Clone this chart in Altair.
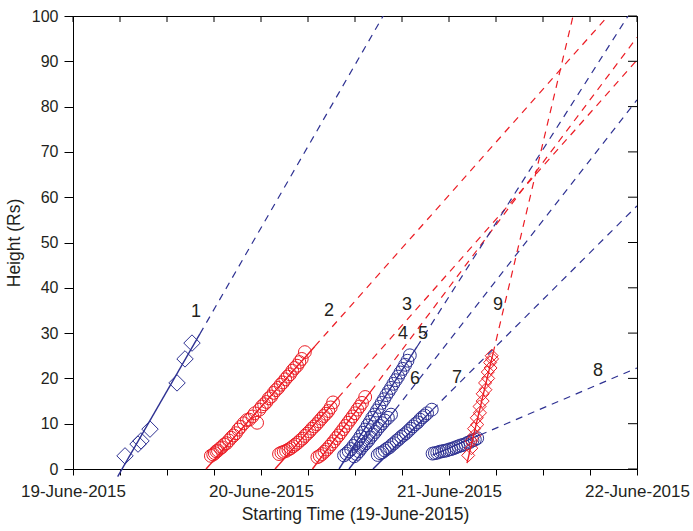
import altair as alt
import pandas as pd

BLUE = "#2e3192"
RED = "#ec1c24"
INK = "#231f20"
FONT = "Liberation Sans"

# x runs in hours after 19-June-2015 00:00
day_labels = ["19-June-2015", "20-June-2015", "21-June-2015", "22-June-2015"]
x_ticks = list(range(0, 73, 6))
y_ticks = list(range(0, 101, 10))
X_MAX = 72

track_ids = [1, 2, 3, 4, 5, 6, 7, 8, 9]
track_colors = ["blue", "red", "red", "red", "blue", "blue", "blue", "blue", "red"]
track_markers = ["diamond", "circle", "circle", "circle", "circle", "circle", "circle", "circle", "diamond"]

# linear height-time fits: time of zero height (h) and speed (Rs/h)
fit_t0 = [6.26, 16.98, 25.79, 30.57, 33.96, 35.23, 38.30, 41.77, 50.12]
fit_speed = [3.00, 1.949, 1.954, 2.30, 2.71, 2.216, 1.724, 0.738, 7.29]
# solid part of each fit (h); dashed extrapolation continues beyond fit_end
fit_start = [5.7, 16.98, 25.79, 30.57, 33.96, 35.23, 38.30, 45.9, 50.3]
fit_end = [16.2, 30.89, 33.83, 38.04, 43.9, 41.1, 45.9, 51.96, 53.62]

# measured heights of each track
t1 = [6.64, 8.30, 8.68, 9.83, 13.28, 14.30, 15.19]
h1 = [2.9, 5.5, 6.2, 8.8, 19.0, 24.3, 27.8]

t2 = [17.6, 17.9, 18.1, 18.3, 18.5, 18.8, 19.0, 19.3, 19.6, 19.9, 20.2, 20.5, 20.8, 21.1,
      21.4, 21.8, 22.2, 22.5, 23.5, 22.9, 23.2, 23.8, 24.1, 24.4, 24.7, 25.0, 25.3, 25.6,
      25.9, 26.2, 26.5, 26.8, 27.1, 27.4, 27.7, 28.0, 28.3, 28.6, 28.9, 29.2, 29.6]
h2 = [2.9, 3.2, 3.5, 3.9, 4.1, 4.6, 4.8, 5.4, 5.7, 6.3, 6.9, 7.4, 7.9, 8.7,
      9.3, 10.1, 10.8, 10.9, 10.2, 11.6, 12.3, 13.1, 13.8, 14.3, 14.8, 15.6, 16.0, 16.8,
      17.4, 17.9, 18.6, 19.1, 19.8, 20.4, 20.9, 21.7, 22.3, 22.8, 23.6, 24.3, 25.8]

t3 = [26.3, 26.6, 26.9, 27.2, 27.5, 27.8, 28.1, 28.4, 28.7, 29.0, 29.3, 29.6,
      29.9, 30.2, 30.5, 30.8, 31.1, 31.4, 31.7, 32.0, 32.3, 32.6, 32.9, 33.2]
h3 = [3.3, 3.6, 3.8, 4.0, 4.3, 4.6, 5.0, 5.4, 5.8, 6.3, 6.7, 7.3,
      7.8, 8.3, 8.9, 9.4, 9.9, 10.5, 11.1, 11.7, 12.2, 12.8, 13.6, 14.7]

t4 = [31.2, 31.5, 31.8, 32.1, 32.4, 32.7, 33.0, 33.3, 33.6, 33.9, 34.2,
      34.5, 34.8, 35.1, 35.4, 35.7, 36.0, 36.3, 36.6, 36.9, 37.3]
h4 = [2.6, 2.9, 3.3, 3.8, 4.3, 4.9, 5.5, 6.1, 6.8, 7.4, 8.1,
      8.8, 9.5, 10.2, 10.9, 11.6, 12.3, 13.1, 13.8, 14.6, 15.9]

t5 = [34.6, 34.9, 35.2, 35.5, 35.8, 36.1, 36.4, 36.7, 37.0, 37.3, 37.6, 37.9, 38.2, 38.5,
      38.8, 39.1, 39.4, 39.7, 40.0, 40.3, 40.6, 40.9, 41.2, 41.5, 41.8, 42.1, 42.4, 42.7, 43.0]
h5 = [3.0, 3.4, 3.9, 4.4, 5.1, 5.7, 6.4, 7.2, 8.0, 8.7, 9.6, 10.4, 11.3, 12.0,
      12.9, 13.7, 14.6, 15.4, 16.3, 17.1, 17.9, 18.8, 19.6, 20.4, 21.3, 22.1, 23.0, 23.9, 25.1]

t6 = [35.9, 36.2, 36.5, 36.8, 37.1, 37.4, 37.7, 38.0, 38.3, 38.6, 38.9, 39.2, 39.5, 39.8, 40.2, 40.6]
h6 = [2.8, 3.3, 3.9, 4.6, 5.2, 5.7, 6.3, 7.0, 7.6, 8.2, 8.9, 9.5, 10.1, 10.7, 11.3, 12.0]

t7 = [38.9, 39.2, 39.5, 39.8, 40.1, 40.4, 40.7, 41.0, 41.3, 41.6, 41.9, 42.2,
      42.5, 42.8, 43.1, 43.4, 43.7, 44.0, 44.3, 44.6, 44.9, 45.2, 45.8]
h7 = [3.1, 3.5, 3.7, 4.1, 4.5, 4.8, 5.3, 5.7, 6.2, 6.6, 7.1, 7.5,
      7.9, 8.4, 8.9, 9.4, 9.9, 10.3, 10.9, 11.4, 11.8, 12.3, 13.1]

t8 = [45.9, 46.2, 46.5, 46.8, 47.1, 47.4, 47.7, 48.0, 48.3, 48.6,
      48.9, 49.2, 49.5, 49.8, 50.1, 50.4, 50.7, 51.0, 51.3, 51.6]
h8 = [3.4, 3.5, 3.6, 3.8, 3.9, 4.0, 4.1, 4.3, 4.4, 4.6,
      4.8, 5.0, 5.2, 5.3, 5.5, 5.8, 6.0, 6.3, 6.5, 6.8]

t9 = [50.45, 50.85, 50.85, 51.25, 51.2, 51.6, 51.55, 51.95, 51.9, 52.3,
      52.3, 52.65, 52.6, 53.0, 52.95, 53.3, 53.25, 53.5, 53.45]
h9 = [3.0, 4.6, 6.2, 7.4, 8.9, 9.8, 11.3, 12.4, 13.8, 15.0,
      16.6, 17.5, 19.0, 20.0, 21.4, 22.3, 23.5, 24.3, 25.0]

track_t = [t1, t2, t3, t4, t5, t6, t7, t8, t9]
track_h = [h1, h2, h3, h4, h5, h6, h7, h8, h9]

# track number annotations
label_text = ["1", "2", "3", "4", "5", "6", "7", "8", "9"]
label_t = [15.70, 32.68, 42.64, 42.13, 44.68, 43.66, 49.02, 67.02, 54.26]
label_h = [34.7, 34.9, 36.2, 29.8, 29.8, 19.9, 20.1, 21.6, 36.2]

# ---- styling ----
W, H = 564, 453
palette = {"blue": BLUE, "red": RED}
marker_size = {1: 270, 9: 170}
CIRCLE_SIZE = 165
X_TICK_LEN, Y_TICK_LEN = 6, 9

x_scale = alt.Scale(domain=[0, X_MAX], nice=False, zero=False)
y_scale = alt.Scale(domain=[0, 100], nice=False, zero=False)


def xy(axis_x=None, axis_y=None):
    return dict(
        x=alt.X("t:Q", scale=x_scale, axis=axis_x),
        y=alt.Y("h:Q", scale=y_scale, axis=axis_y),
    )


label_expr = (
    "datum.value % 24 === 0 ? ["
    + ",".join("'" + s + "'" for s in day_labels)
    + "][datum.value / 24] : ''"
)

layers = []

# main axes: bottom and left
anchor = pd.DataFrame({"t": [0], "h": [0]})
layers.append(
    alt.Chart(anchor).mark_point(opacity=0).encode(
        **xy(
            axis_x=alt.Axis(
                orient="bottom", values=x_ticks, labelExpr=label_expr,
                tickSize=X_TICK_LEN, labelPadding=8, labelFontSize=17,
                title="Starting Time (19-June-2015)", titleFontSize=17.5,
                titlePadding=6, labelOverlap=False, labelFlush=False,
            ),
            axis_y=alt.Axis(
                orient="left", values=y_ticks, tickSize=Y_TICK_LEN, labelPadding=6,
                labelFontSize=16, title="Height (Rs)", titleFontSize=17.5,
                titlePadding=8, labelOverlap=False,
            ),
        )
    )
)

for i, tid in enumerate(track_ids):
    col = palette[track_colors[i]]
    t0, v = fit_t0[i], fit_speed[i]
    solid = pd.DataFrame({
        "t": [fit_start[i], fit_end[i]],
        "h": [v * (fit_start[i] - t0), v * (fit_end[i] - t0)],
    })
    dashed = pd.DataFrame({
        "t": [fit_end[i], X_MAX],
        "h": [v * (fit_end[i] - t0), v * (X_MAX - t0)],
    })
    pts = pd.DataFrame({"t": track_t[i], "h": track_h[i]})

    layers.append(
        alt.Chart(pts).mark_point(
            shape=track_markers[i],
            size=marker_size.get(tid, CIRCLE_SIZE),
            filled=False, color=col, strokeWidth=1, opacity=1,
        ).encode(**xy())
    )
    layers.append(
        alt.Chart(solid).mark_line(color=col, strokeWidth=1.4).encode(**xy())
    )
    layers.append(
        alt.Chart(dashed).mark_line(
            color=col, strokeWidth=1.2, strokeDash=[7, 6], clip=True
        ).encode(**xy())
    )

labels_df = pd.DataFrame({"t": label_t, "h": label_h, "txt": label_text})
layers.append(
    alt.Chart(labels_df).mark_text(
        font=FONT, fontSize=18, color=INK, align="center", baseline="middle"
    ).encode(text="txt:N", **xy())
)

# inward ticks along the top and right edges of the frame
top_ticks = pd.DataFrame({"t": x_ticks})
right_ticks = pd.DataFrame({"h": y_ticks})
layers.append(
    alt.Chart(top_ticks).mark_rule(color="black", strokeWidth=1).encode(
        x=alt.X("t:Q", scale=x_scale, axis=None),
        y=alt.value(0), y2=alt.value(X_TICK_LEN),
    )
)
layers.append(
    alt.Chart(right_ticks).mark_rule(color="black", strokeWidth=1).encode(
        y=alt.Y("h:Q", scale=y_scale, axis=None),
        x=alt.value(W - Y_TICK_LEN), x2=alt.value(W),
    )
)

chart = (
    alt.layer(*layers)
    .resolve_axis(x="independent", y="independent")
    .properties(
        width=W, height=H,
        padding={"left": 73, "top": 16, "right": 56, "bottom": 62},
        autosize="none",
        background="white",
    )
    .configure_view(stroke="black", strokeWidth=1)
    .configure_axis(
        grid=False, domainColor="black", tickColor="black", domainWidth=1,
        tickWidth=1, labelColor=INK, titleColor=INK, labelFont=FONT,
        titleFont=FONT, titleFontWeight="normal",
    )
)

chart.save("out.html", embed_options={"renderer": "svg", "actions": False})
